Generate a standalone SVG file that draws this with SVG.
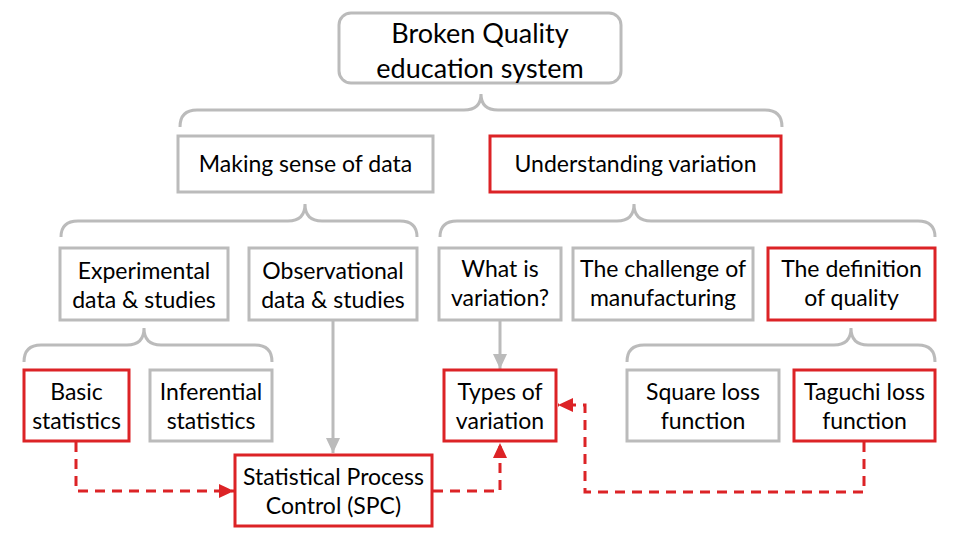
<svg xmlns="http://www.w3.org/2000/svg" width="960" height="540" viewBox="0 0 960 540">
<defs>
<style>
.g{fill:#fff;stroke:#BBBBBB;stroke-width:3}
.r{fill:#fff;stroke:#DC2326;stroke-width:3}
.br{fill:none;stroke:#BBBBBB;stroke-width:3}
.t{font-family:Lato,"Open Sans","Liberation Sans",sans-serif;font-size:23px;fill:#000;text-anchor:middle}
.tt{font-size:27px}
.cg{fill:none;stroke:#BBBBBB;stroke-width:3}
.cr{fill:none;stroke:#DC2326;stroke-width:3;stroke-dasharray:10 7}
</style>
<marker id="ag" markerUnits="userSpaceOnUse" markerWidth="18" markerHeight="18" refX="15" refY="7" orient="auto"><path d="M0,0 L15,7 L0,14 Z" fill="#BBBBBB"/></marker>
<marker id="ar" markerUnits="userSpaceOnUse" markerWidth="18" markerHeight="18" refX="15" refY="7" orient="auto"><path d="M0,0 L15,7 L0,14 Z" fill="#DC2326"/></marker>
</defs>
<rect width="960" height="540" fill="#fff"/>

<g id="braces">
<path class="br" d="M180,127 Q180,110 197,110 H464 Q481,110 481,94 Q481,110 498,110 H765 Q782,110 782,127"/>
<path class="br" d="M61,237 Q61,221 78,221 H288 Q305,221 305,204 Q305,221 322,221 H400 Q417,221 417,237"/>
<path class="br" d="M440,237 Q440,221 457,221 H617 Q634,221 634,204 Q634,221 651,221 H918 Q935,221 935,237"/>
<path class="br" d="M24,362 Q24,345 41,345 H127 Q144,345 144,328 Q144,345 161,345 H255 Q272,345 272,362"/>
<path class="br" d="M627,362 Q627,345 644,345 H834 Q851,345 851,328 Q851,345 868,345 H918 Q935,345 935,362"/>
</g>

<g id="connectors">
<path class="cg" d="M333,320 V453" marker-end="url(#ag)"/>
<path class="cg" d="M500,320 V369" marker-end="url(#ag)"/>
<path class="cr" d="M76,442 V491 H234" marker-end="url(#ar)"/>
<path class="cr" d="M433,491 H500 V443" marker-end="url(#ar)"/>
<path class="cr" d="M864,442 V492 H585 V405 H558" marker-end="url(#ar)"/>
</g>

<g id="root">
<rect class="g" x="339" y="13" width="282" height="70" rx="12"/>
<text class="t tt" x="480" y="43">Broken Quality</text>
<text class="t tt" x="480" y="78">education system</text>
</g>
<g id="making-sense">
<rect class="g" x="178" y="136" width="255" height="56"/>
<text class="t" x="305.5" y="172">Making sense of data</text>
</g>
<g id="understanding">
<rect class="r" x="490" y="136" width="291" height="56"/>
<text class="t" x="635.5" y="172">Understanding variation</text>
</g>
<g id="experimental">
<rect class="g" x="60" y="248" width="168" height="72"/>
<text class="t" x="144" y="279">Experimental</text>
<text class="t" x="144" y="308">data &amp; studies</text>
</g>
<g id="observational">
<rect class="g" x="249" y="248" width="168" height="72"/>
<text class="t" x="333" y="279">Observational</text>
<text class="t" x="333" y="308">data &amp; studies</text>
</g>
<g id="what-is">
<rect class="g" x="439" y="248" width="122" height="72"/>
<text class="t" x="500" y="277">What is</text>
<text class="t" x="500" y="306">variation?</text>
</g>
<g id="challenge">
<rect class="g" x="573" y="248" width="180" height="72"/>
<text class="t" x="663" y="277">The challenge of</text>
<text class="t" x="663" y="306">manufacturing</text>
</g>
<g id="definition">
<rect class="r" x="768" y="248" width="167" height="72"/>
<text class="t" x="851.5" y="277">The definition</text>
<text class="t" x="851.5" y="306">of quality</text>
</g>
<g id="basic">
<rect class="r" x="24" y="370" width="105" height="71"/>
<text class="t" x="76.5" y="400">Basic</text>
<text class="t" x="76.5" y="429">statistics</text>
</g>
<g id="inferential">
<rect class="g" x="150" y="370" width="122" height="71"/>
<text class="t" x="211" y="400">Inferential</text>
<text class="t" x="211" y="429">statistics</text>
</g>
<g id="types">
<rect class="r" x="444" y="370" width="112" height="71"/>
<text class="t" x="500" y="400">Types of</text>
<text class="t" x="500" y="429">variation</text>
</g>
<g id="square">
<rect class="g" x="627" y="370" width="152" height="71"/>
<text class="t" x="703" y="400">Square loss</text>
<text class="t" x="703" y="429">function</text>
</g>
<g id="taguchi">
<rect class="r" x="794" y="370" width="141" height="71"/>
<text class="t" x="864.5" y="400">Taguchi loss</text>
<text class="t" x="864.5" y="429">function</text>
</g>
<g id="spc">
<rect class="r" x="235" y="455" width="197" height="71"/>
<text class="t" x="333.5" y="485">Statistical Process</text>
<text class="t" x="333.5" y="514">Control (SPC)</text>
</g>
</svg>
